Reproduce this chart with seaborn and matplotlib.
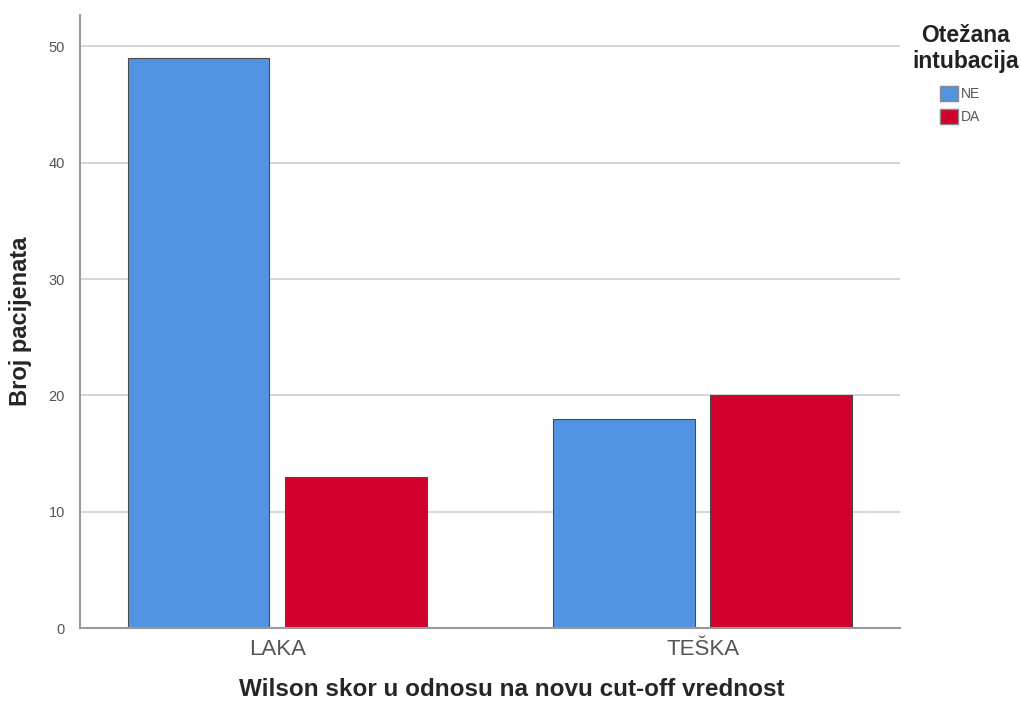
import pandas as pd
import seaborn as sns
import matplotlib.pyplot as plt
from matplotlib.patches import Patch

categories = ["LAKA", "TEŠKA"]
groups = ["NE", "DA"]
ne_counts = [49, 18]
da_counts = [13, 20]
colors = {"NE": "#5294e2", "DA": "#d2002d"}

df = pd.DataFrame({
    "kategorija": categories * 2,
    "grupa": ["NE"] * len(categories) + ["DA"] * len(categories),
    "broj": ne_counts + da_counts,
})

sns.set_style("white")
plt.rcParams["font.family"] = ["Liberation Sans", "DejaVu Sans"]

fig = plt.figure(figsize=(10.21, 7.07), dpi=100)
ax = fig.add_axes([0.0784, 0.1117, 0.803, 0.867])

sns.barplot(data=df, x="kategorija", y="broj", hue="grupa", order=categories,
            hue_order=groups, palette=colors, width=0.74, gap=0.1,
            edgecolor="#4a4a4a", linewidth=0.8, saturation=1, ax=ax, legend=False)

ax.set_xlim(-0.464, 1.464)
ax.set_ylim(0, 52.7)
ax.set_yticks([0, 10, 20, 30, 40, 50])
ax.yaxis.grid(True, color="#cfcfcf", linewidth=1.2)
ax.set_axisbelow(True)
for s in ["top", "right"]:
    ax.spines[s].set_visible(False)
for s in ["left", "bottom"]:
    ax.spines[s].set_color("#9a9a9a")
    ax.spines[s].set_linewidth(1.5)
ax.tick_params(axis="y", length=0, labelsize=10.5, labelcolor="#555555", pad=11)
ax.tick_params(axis="x", length=0, labelsize=16, labelcolor="#555555", pad=8)

ax.set_ylabel("Broj pacijenata", fontsize=17, fontweight="bold")
ax.yaxis.set_label_coords(-0.058, 0.5)
ax.set_xlabel("Wilson skor u odnosu na novu cut-off vrednost", fontsize=17.5,
              fontweight="bold")
ax.xaxis.set_label_coords(0.527, -0.082)

# legend title drawn separately so it can be centred above the entries
fig.text(0.9455, 0.931, "Otežana\nintubacija", ha="center", va="center",
         fontsize=16.5, fontweight="bold", color="#222222", linespacing=1.15)
handles = [Patch(facecolor=colors[g], edgecolor="#888888", label=g) for g in groups]
leg = fig.legend(handles=handles, loc="upper left", bbox_to_anchor=(0.921, 0.879),
                 frameon=False, fontsize=10, handlelength=1.3, handleheight=1.3,
                 handletextpad=0.15, labelspacing=0.6, borderpad=0, borderaxespad=0)
for t in leg.get_texts():
    t.set_color("#555555")

fig.savefig("out.png", dpi=100)
